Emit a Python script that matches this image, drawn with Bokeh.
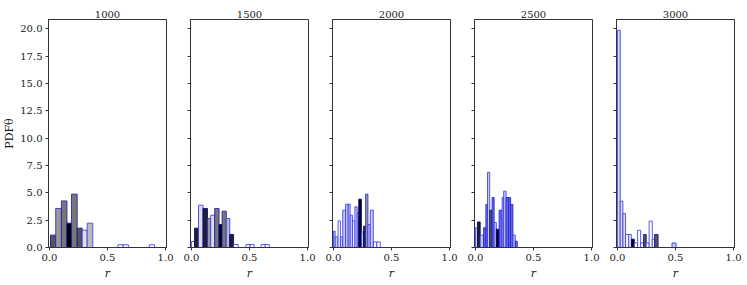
from bokeh.plotting import figure
from bokeh.layouts import row
from bokeh.models import Range1d, FixedTicker, ColumnDataSource
from bokeh.embed import file_html
from bokeh.resources import INLINE

# ---------------- data ----------------
panel_titles = ["1000", "1500", "2000", "2500", "3000"]
x_ticks = [0.0, 0.5, 1.0]
y_ticks = [0.0, 2.5, 5.0, 7.5, 10.0, 12.5, 15.0, 17.5, 20.0]
y_label = "PDFθ"
x_label = "r"

# bins of each panel: left edge, right edge, density, run/group id
left_1000 = [0.009, 0.054, 0.103, 0.151, 0.190, 0.239, 0.282, 0.325, 0.590, 0.635, 0.860]
right_1000 = [0.054, 0.103, 0.151, 0.190, 0.239, 0.282, 0.325, 0.373, 0.635, 0.680, 0.905]
pdf_1000 = [1.13, 3.57, 4.26, 2.22, 4.88, 1.77, 1.58, 2.22, 0.25, 0.25, 0.25]
group_1000 = [2, 4, 3, 0, 3, 2, 6, 5, 7, 7, 7]

left_1500 = [0.000, 0.027, 0.061, 0.100, 0.138, 0.166, 0.200, 0.238, 0.264, 0.300, 0.330, 0.363, 0.470, 0.505, 0.600, 0.635]
right_1500 = [0.027, 0.061, 0.100, 0.138, 0.166, 0.200, 0.238, 0.264, 0.300, 0.330, 0.363, 0.403, 0.505, 0.540, 0.635, 0.670]
pdf_1500 = [0.55, 1.77, 3.87, 3.57, 2.65, 2.95, 3.57, 2.10, 3.32, 2.65, 1.19, 0.27, 0.27, 0.27, 0.27, 0.27]
group_1500 = [7, 1, 6, 1, 4, 6, 3, 0, 3, 5, 1, 7, 7, 7, 7, 7]

left_2000 = [0.000, 0.015, 0.040, 0.060, 0.080, 0.105, 0.127, 0.144, 0.165, 0.185, 0.205, 0.218, 0.241, 0.260, 0.277, 0.297, 0.317, 0.345, 0.374]
right_2000 = [0.015, 0.040, 0.060, 0.080, 0.105, 0.127, 0.144, 0.165, 0.185, 0.205, 0.218, 0.241, 0.260, 0.277, 0.297, 0.317, 0.343, 0.374, 0.403]
pdf_2000 = [1.49, 0.97, 2.43, 0.97, 3.41, 3.96, 3.96, 2.95, 2.43, 3.72, 3.17, 4.42, 1.43, 1.95, 4.88, 2.10, 3.41, 0.51, 0.51]
group_2000 = [8, 8, 7, 8, 8, 8, 8, 8, 7, 8, 8, 0, 8, 1, 4, 8, 8, 7, 7]

left_2500 = [0.000, 0.018, 0.041, 0.070, 0.090, 0.104, 0.123, 0.144, 0.161, 0.180, 0.204, 0.230, 0.243, 0.264, 0.286, 0.303, 0.323, 0.343]
right_2500 = [0.018, 0.041, 0.070, 0.090, 0.104, 0.123, 0.144, 0.161, 0.180, 0.204, 0.230, 0.243, 0.264, 0.286, 0.303, 0.323, 0.343, 0.360]
pdf_2500 = [1.80, 2.34, 1.13, 1.80, 3.93, 6.86, 3.41, 4.57, 2.29, 1.67, 3.41, 4.57, 5.15, 4.57, 4.57, 3.93, 1.13, 0.58]
group_2500 = [8, 1, 8, 9, 9, 8, 2, 9, 8, 0, 9, 8, 8, 9, 9, 9, 8, 9]

left_3000 = [0.000, 0.024, 0.047, 0.070, 0.098, 0.120, 0.145, 0.174, 0.200, 0.225, 0.248, 0.273, 0.300, 0.320, 0.470]
right_3000 = [0.024, 0.047, 0.070, 0.098, 0.120, 0.145, 0.174, 0.200, 0.225, 0.248, 0.273, 0.300, 0.320, 0.350, 0.505]
pdf_3000 = [19.86, 4.24, 3.10, 1.19, 1.19, 0.76, 0.42, 1.58, 0.42, 1.19, 0.42, 2.41, 0.76, 1.19, 0.42]
group_3000 = [6, 6, 6, 7, 7, 0, 7, 7, 7, 2, 7, 7, 7, 2, 8]

panels = [
    (left_1000, right_1000, pdf_1000, group_1000),
    (left_1500, right_1500, pdf_1500, group_1500),
    (left_2000, right_2000, pdf_2000, group_2000),
    (left_2500, right_2500, pdf_2500, group_2500),
    (left_3000, right_3000, pdf_3000, group_3000),
]

# ---------------- style ----------------
FILL = {0: "#000000", 1: "#222222", 2: "#555555", 3: "#777777", 4: "#999999",
        5: "#bbbbbb", 6: "#dddddd", 7: "#ffffff", 8: "#c8c8f4", 9: "#6a6aee"}
EDGE = {0: "#000088", 1: "#000088", 2: "#101090", 3: "#2020b0", 4: "#2a2ad8",
        5: "#3a3af0", 6: "#3a3af0", 7: "#3a3af0", 8: "#3a3af0", 9: "#2020d0"}
FONT = "DejaVu Serif"
AX = "#333333"
TXT = "#222222"
Y_MAX = 20.85
X_RANGE = (-0.008, 1.008)

figs = []
for i, (lft, rgt, pdf, grp) in enumerate(panels):
    first = i == 0
    p = figure(frame_width=118, frame_height=228, output_backend="svg", toolbar_location=None,
               x_range=Range1d(*X_RANGE), y_range=Range1d(0, Y_MAX),
               min_border_left=45 if first else 12, min_border_right=12,
               min_border_top=19, min_border_bottom=36,
               title=panel_titles[i])
    p.title.align = "center"
    p.title.text_font = FONT
    p.title.text_font_size = "10px"
    p.title.text_font_style = "normal"
    p.title.text_color = TXT
    p.title.standoff = 4
    p.title.offset = 0
    p.background_fill_color = "white"
    p.border_fill_color = "white"
    p.outline_line_color = AX
    p.outline_line_width = 1
    p.grid.visible = False

    src = ColumnDataSource(dict(
        left=lft, right=rgt, top=pdf, bottom=[0] * len(pdf),
        fill=[FILL[g] for g in grp], edge=[EDGE[g] for g in grp]))
    p.quad(left="left", right="right", bottom="bottom", top="top", source=src,
           fill_color="fill", line_color="edge", line_width=1, line_alpha=0.85)

    for ax in (p.xaxis, p.yaxis):
        ax.axis_line_color = AX
        ax.major_tick_line_color = AX
        ax.major_tick_out = 3
        ax.major_tick_in = 0
        ax.minor_tick_line_color = None
        ax.major_label_text_font = FONT
        ax.major_label_text_font_size = "10px"
        ax.major_label_text_color = TXT
    p.xaxis.ticker = FixedTicker(ticks=x_ticks)
    p.yaxis.ticker = FixedTicker(ticks=y_ticks)
    p.xaxis.major_label_overrides = {t: f"{t:.1f}" for t in x_ticks}
    p.xaxis.major_label_standoff = 3
    p.xaxis.axis_label = x_label
    p.xaxis.axis_label_text_font = FONT
    p.xaxis.axis_label_text_font_style = "italic"
    p.xaxis.axis_label_text_font_size = "11px"
    p.xaxis.axis_label_standoff = 3
    p.xaxis.axis_label_text_color = TXT
    if first:
        p.yaxis.major_label_overrides = {t: f"{t:.1f}" for t in y_ticks}
        p.yaxis.major_label_standoff = 3
        p.yaxis.axis_label = y_label
        p.yaxis.axis_label_text_font = FONT
        p.yaxis.axis_label_text_font_style = "normal"
        p.yaxis.axis_label_text_font_size = "11px"
        p.yaxis.axis_label_standoff = 1
        p.yaxis.axis_label_text_color = TXT
    else:
        p.yaxis.major_label_overrides = {t: "" for t in y_ticks}
        p.yaxis.major_label_standoff = 0
    figs.append(p)

layout = row(*figs, spacing=0)
open("out.html", "w").write(file_html(layout, INLINE))
